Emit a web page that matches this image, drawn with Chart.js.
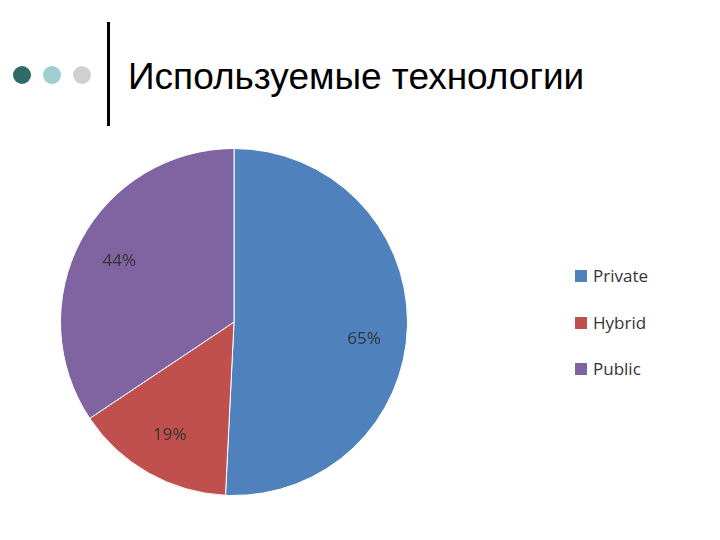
<!DOCTYPE html>
<html><head><meta charset="utf-8">
<script src="https://cdn.jsdelivr.net/npm/chart.js@4"></script>
<style>
body{margin:0;width:720px;height:540px;background:#fff;position:relative;overflow:hidden;font-family:"Liberation Sans",Arial,sans-serif}
.dot{position:absolute;width:18px;height:18px;border-radius:50%;top:66px}
#vl{position:absolute;left:107px;top:22px;width:3px;height:104px;background:#000}
#title{position:absolute;left:128px;top:56px;font-size:37px;color:#000;white-space:nowrap}
#cw{position:absolute;left:0;top:140px;width:468px;height:364px}
#legend{position:absolute;left:575px;top:264px;font-family:"Open Sans",sans-serif;font-size:17px;color:#333}
#legend div{height:46.5px;display:flex;align-items:flex-start}
#legend span.sw{display:inline-block;width:12px;height:12px;margin:6px 6px 0 0}
</style></head><body>
<div class="dot" style="left:13px;background:#2f6a66"></div>
<div class="dot" style="left:43px;background:#9ccfd0"></div>
<div class="dot" style="left:73px;background:#d0d0d0"></div>
<div id="vl"></div>
<div id="title">Используемые технологии</div>
<div id="cw"><canvas id="c"></canvas></div>
<div id="legend"></div>
<script>
const categories=["Private","Hybrid","Public"];
const values=[65,19,44];
const labels=["65%","19%","44%"];
const colors=["#4F81BD","#C0504D","#8064A2"];
const lg=document.getElementById('legend');
categories.forEach((c,i)=>{const d=document.createElement('div');d.innerHTML='<span class="sw" style="background:'+colors[i]+'"></span>'+c;lg.appendChild(d);});
const lbl={id:'lbl',afterDatasetsDraw(ch){const ctx=ch.ctx;const meta=ch.getDatasetMeta(0);ctx.save();ctx.font='17px "Open Sans"';ctx.fillStyle='#333';ctx.textAlign='center';ctx.textBaseline='middle';
meta.data.forEach((a,i)=>{const p=a.getProps(['startAngle','endAngle','outerRadius','x','y'],true);const m=(p.startAngle+p.endAngle)/2;const r=p.outerRadius*0.75;ctx.fillText(labels[i],p.x+Math.cos(m)*r,p.y+Math.sin(m)*r+(i==0?14:0));});ctx.restore();}};
new Chart(document.getElementById('c'),{type:'pie',data:{labels:categories,datasets:[{data:values,backgroundColor:colors,borderColor:'#fff',borderWidth:1}]},
options:{responsive:true,maintainAspectRatio:false,animation:false,layout:{padding:8},plugins:{legend:{display:false},tooltip:{enabled:false}}},plugins:[lbl]});
</script></body></html>
